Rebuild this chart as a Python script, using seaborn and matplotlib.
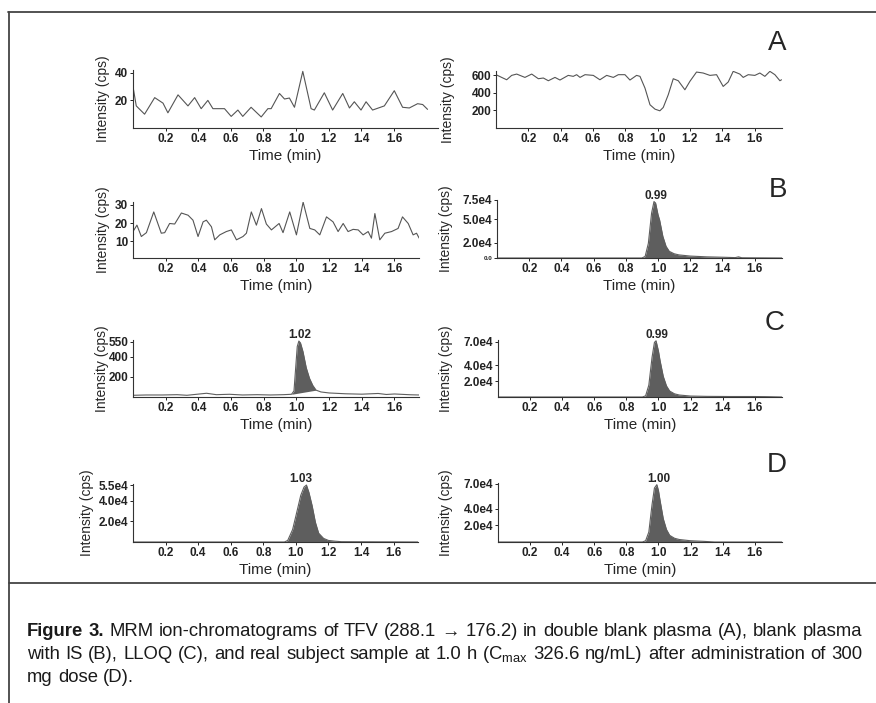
import matplotlib
matplotlib.use('Agg')
import numpy as np
import seaborn as sns
import matplotlib.pyplot as plt
from matplotlib.lines import Line2D

# ---- data (time in min, intensity in cps) ----
# A, left: double blank plasma, analyte channel
a1_t = [0.000, 0.020, 0.071, 0.133, 0.184, 0.214, 0.276, 0.337, 0.378, 0.418, 0.459, 0.490, 0.561, 0.602,
        0.643, 0.673, 0.724, 0.786, 0.827, 0.847, 0.898, 0.929, 0.959, 0.990, 1.041, 1.092, 1.112, 1.173,
        1.224, 1.286, 1.327, 1.357, 1.398, 1.429, 1.469, 1.541, 1.602, 1.653, 1.694, 1.745, 1.776, 1.806]
a1_y = [30, 16, 10, 22, 18, 11, 24, 16, 22, 14, 20, 14, 14, 8.4, 13, 8.4, 15, 8, 14, 14, 25, 21, 21.7, 15,
        41, 14, 13, 25.5, 13, 25, 14.5, 19, 13, 19, 13, 16, 27, 15, 14.5, 17.6, 17, 13.5]
# A, right: double blank plasma, IS channel
a2_t = [0.000, 0.035, 0.066, 0.097, 0.128, 0.179, 0.221, 0.262, 0.293, 0.324, 0.365, 0.396, 0.447, 0.478,
        0.499, 0.520, 0.551, 0.602, 0.643, 0.685, 0.726, 0.757, 0.798, 0.829, 0.870, 0.891, 0.922, 0.953,
        0.984, 1.014, 1.035, 1.066, 1.097, 1.128, 1.169, 1.200, 1.241, 1.282, 1.324, 1.365, 1.406, 1.437,
        1.468, 1.509, 1.530, 1.561, 1.602, 1.633, 1.664, 1.695, 1.726, 1.757, 1.767]
a2_y = [608, 577, 550, 600, 615, 577, 615, 562, 570, 539, 577, 547, 600, 589, 608, 577, 608, 600, 550, 600,
        577, 608, 608, 547, 600, 589, 455, 265, 215, 196, 234, 379, 562, 539, 436, 532, 638, 627, 600, 608,
        474, 524, 646, 615, 577, 608, 600, 627, 589, 646, 608, 539, 550]
# B, left: blank plasma with IS, analyte channel
b1_t = [0, 0.024, 0.051, 0.082, 0.127, 0.173, 0.194, 0.224, 0.255, 0.296, 0.337, 0.367, 0.398, 0.429,
        0.449, 0.480, 0.500, 0.531, 0.571, 0.602, 0.633, 0.673, 0.694, 0.724, 0.755, 0.786, 0.816, 0.847,
        0.894, 0.918, 0.959, 1.000, 1.041, 1.082, 1.112, 1.143, 1.184, 1.224, 1.255, 1.286, 1.316, 1.347,
        1.378, 1.408, 1.439, 1.459, 1.480, 1.510, 1.541, 1.582, 1.622, 1.649, 1.684, 1.714, 1.735, 1.751]
b1_y = [15.4, 18.9, 12.7, 14.8, 26.1, 14.5, 14.8, 19.8, 19.5, 25.5, 24.3, 21.6, 12.7, 20.7, 21.6, 18.0,
        10.9, 13.6, 15.4, 16.3, 10.9, 12.7, 14.5, 26.1, 18.9, 27.9, 19.5, 16.3, 19.8, 14.8, 26.1, 13.6,
        31.4, 17.1, 16.3, 13.6, 23.4, 20.7, 15.4, 19.8, 15.4, 16.6, 16.3, 13.6, 15.4, 11.8, 25.2, 10.9,
        14.5, 15.4, 17.1, 23.4, 19.8, 13.6, 14.5, 11.8]
# B, right: IS peak
b2_t = [0, 0.90, 0.92, 0.94, 0.96, 0.975, 0.985, 1.00, 1.01, 1.03, 1.05, 1.07, 1.10, 1.13, 1.20, 1.30,
        1.40, 1.48, 1.50, 1.52, 1.77]
b2_y = [0, 0, 2e3, 1.9e4, 5.8e4, 7.3e4, 7.1e4, 5.6e4, 4.9e4, 2.8e4, 1.5e4, 8.6e3, 5.5e3, 4e3, 2.5e3,
        1.5e3, 1e3, 5e2, 1.5e3, 3e2, 0]
# C, left: LLOQ analyte
c1_t = [0, 0.08, 0.18, 0.27, 0.33, 0.39, 0.45, 0.51, 0.59, 0.67, 0.76, 0.84, 0.92, 0.97, 0.985, 0.995,
        1.005, 1.015, 1.025, 1.04, 1.06, 1.08, 1.10, 1.12, 1.15, 1.20, 1.25, 1.30, 1.40, 1.50, 1.55, 1.60,
        1.70, 1.75]
c1_y = [17, 20, 20, 23, 17, 27, 37, 23, 27, 20, 23, 20, 23, 27, 60, 280, 500, 555, 535, 450, 290, 185,
        115, 68, 50, 40, 36, 32, 28, 35, 25, 30, 22, 20]
c1_window = (0.97, 1.12)
# C, right: LLOQ IS
c2_t = [0, 0.90, 0.92, 0.94, 0.96, 0.975, 0.985, 1.00, 1.01, 1.03, 1.05, 1.07, 1.10, 1.13, 1.20, 1.30,
        1.45, 1.60, 1.68, 1.77]
c2_y = [0, 0, 1.5e3, 1.5e4, 5.0e4, 6.9e4, 7.1e4, 5.8e4, 4.6e4, 2.6e4, 1.4e4, 7.5e3, 4e3, 2.5e3, 1.2e3,
        8e2, 6e2, 6e2, 4e2, 0]
# D, left: subject sample analyte
d1_t = [0, 0.93, 0.95, 0.98, 1.00, 1.03, 1.05, 1.065, 1.08, 1.10, 1.12, 1.14, 1.17, 1.20, 1.24, 1.28, 1.75]
d1_y = [0, 0, 1.5e3, 1.2e4, 2.5e4, 4.5e4, 5.3e4, 5.5e4, 4.8e4, 3.5e4, 1.9e4, 8.5e3, 3.5e3, 1.5e3, 8e2,
        3e2, 0]
# D, right: subject sample IS
d2_t = [0, 0.90, 0.92, 0.94, 0.96, 0.975, 0.99, 1.00, 1.01, 1.03, 1.05, 1.07, 1.10, 1.13, 1.20, 1.28,
        1.35, 1.77]
d2_y = [0, 0, 1.5e3, 1.2e4, 4.5e4, 6.5e4, 6.9e4, 6.2e4, 5.0e4, 2.8e4, 1.5e4, 8e3, 4.5e3, 3e3, 1.5e3,
        8e2, 0, 0]

x_ticks = [0.2, 0.4, 0.6, 0.8, 1.0, 1.2, 1.4, 1.6]
x_labels = ['0.2', '0.4', '0.6', '0.8', '1.0', '1.2', '1.4', '1.6']
peak_labels = {'B2': '0.99', 'C1': '1.02', 'C2': '0.99', 'D1': '1.03', 'D2': '1.00'}
panel_letters = ['A', 'B', 'C', 'D']

caption = [
    "Figure 3. MRM ion-chromatograms of TFV (288.1 \u2192 176.2) in double blank plasma (A), blank plasma",
    "with IS (B), LLOQ (C), and real subject sample at 1.0 h (C$_{max}$ 326.6 ng/mL) after administration of 300",
    "mg dose (D).",
]

# ---- layout (pixel boxes: left, top, right, bottom) ----
W, H = 876, 703
panels = [
    dict(key='A1', t=a1_t, y=a1_y, box=(133, 70, 438, 128), xmax=1.87, ylim=(0, 42),
         yt=[20, 40], ytl=['20', '40'], ylx=110, fill=False),
    dict(key='A2', t=a2_t, y=a2_y, box=(496, 71, 782, 128), xmax=1.77, ylim=(0, 650),
         yt=[200, 400, 600], ytl=['200', '400', '600'], ylx=455, fill=False),
    dict(key='B1', t=b1_t, y=b1_y, box=(133, 202, 419, 258), xmax=1.75, ylim=(1, 31.5),
         yt=[10, 20, 30], ytl=['10', '20', '30'], ylx=110, fill=False),
    dict(key='B2', t=b2_t, y=b2_y, box=(497, 200, 782, 258), xmax=1.77, ylim=(0, 7.5e4),
         yt=[0, 2e4, 5e4, 7.5e4], ytl=['0.0', '2.0e4', '5.0e4', '7.5e4'], ylx=453, fill=True),
    dict(key='C1', t=c1_t, y=c1_y, box=(133, 340, 419, 397), xmax=1.75, ylim=(0, 565),
         yt=[200, 400, 550], ytl=['200', '400', '550'], ylx=109, fill=c1_window),
    dict(key='C2', t=c2_t, y=c2_y, box=(498, 340, 782, 397), xmax=1.77, ylim=(0, 7.2e4),
         yt=[2e4, 4e4, 7e4], ytl=['2.0e4', '4.0e4', '7.0e4'], ylx=453, fill=True),
    dict(key='D1', t=d1_t, y=d1_y, box=(133, 484, 418, 542), xmax=1.75, ylim=(0, 5.6e4),
         yt=[2e4, 4e4, 5.5e4], ytl=['2.0e4', '4.0e4', '5.5e4'], ylx=94, fill=True),
    dict(key='D2', t=d2_t, y=d2_y, box=(498, 483, 782, 542), xmax=1.77, ylim=(0, 7.1e4),
         yt=[2e4, 4e4, 7e4], ytl=['2.0e4', '4.0e4', '7.0e4'], ylx=453, fill=True),
]
letter_pos = [(777, 43), (778, 190), (775, 323), (777, 465)]

sns.set_theme(style='ticks')
plt.rcParams['font.family'] = ['Liberation Sans', 'DejaVu Sans']
plt.rcParams['mathtext.default'] = 'regular'

fig = plt.figure(figsize=(W / 100, H / 100), dpi=100)
line_c = '#555555'
fill_c = '#5e5e5e'

for p in panels:
    l, t, r, b = p['box']
    ax = fig.add_axes([l / W, 1 - b / H, (r - l) / W, (b - t) / H])
    tt = np.array(p['t'])
    yy = np.array(p['y'])
    col = fill_c if p['fill'] is not False else line_c
    sns.lineplot(x=tt, y=yy, ax=ax, color=col, linewidth=0.8, estimator=None, sort=False)
    if p['fill'] is True:
        ax.fill_between(tt, yy, 0, color=fill_c, linewidth=0)
    elif p['fill']:
        t0, t1 = p['fill']
        m = (tt >= t0) & (tt <= t1)
        base = np.interp(tt[m], [t0, t1], [np.interp(t0, tt, yy), np.interp(t1, tt, yy)])
        ax.fill_between(tt[m], yy[m], base, color=fill_c, linewidth=0)
    if p['key'] in peak_labels:
        lab = peak_labels[p['key']]
        ax.text(float(lab), yy.max(), lab, ha='center', va='bottom', fontsize=8.5,
                fontweight='bold', clip_on=False)
    ax.set_xlim(0, p['xmax'])
    ax.set_ylim(*p['ylim'])
    ax.set_xticks(x_ticks, x_labels)
    ax.set_yticks(p['yt'], p['ytl'])
    ax.tick_params(length=2, width=0.7, pad=1.5, labelsize=8.5, colors='#222222')
    for lab in ax.get_xticklabels() + ax.get_yticklabels():
        lab.set_fontweight('bold')
    if p['key'] == 'B2':
        ax.get_yticklabels()[0].set_fontsize(4.5)
    for s in ['top', 'right']:
        ax.spines[s].set_visible(False)
    for s in ['left', 'bottom']:
        ax.spines[s].set_linewidth(0.8)
        ax.spines[s].set_color('#333333')
    ax.set_xlabel('Time (min)', fontsize=11, labelpad=3)
    ax.set_ylabel('Intensity (cps)', fontsize=10)
    ax.yaxis.set_label_coords((p['ylx'] - l) / (r - l), 0.5)

for letter, (x, y) in zip(panel_letters, letter_pos):
    fig.text(x / W, 1 - y / H, letter, fontsize=20, ha='center', va='center')

# frame round figure and caption
frame = dict(transform=fig.transFigure, color='#444444', linewidth=1.3)
fig.add_artist(Line2D([8 / W, 1], [1 - 12 / H, 1 - 12 / H], **frame))
fig.add_artist(Line2D([9 / W, 9 / W], [1 - 12 / H, 0], **frame))
fig.add_artist(Line2D([9 / W, 1], [1 - 583 / H, 1 - 583 / H], **frame))

# caption, justified like the printed page
cap_x0, cap_x1 = 27, 862
cap_base = [636, 659, 682]
renderer = fig.canvas.get_renderer()


def words_of(i, line):
    ws = line.split(' ')
    return [(w, 'bold' if (i == 0 and j < 2) else 'normal') for j, w in enumerate(ws)]


def measure(words, size):
    arts = [fig.text(0, 0, w, fontsize=size, fontweight=wt) for w, wt in words]
    widths = [a.get_window_extent(renderer).width for a in arts]
    for a in arts:
        a.remove()
    return widths


probe = 10
w0 = measure(words_of(0, caption[0]), probe)
space0 = 0.278 * probe * 100 / 72
cap_size = probe * (cap_x1 - cap_x0) / (sum(w0) + space0 * (len(w0) - 1))
space = 0.278 * cap_size * 100 / 72

for i, (line, yb) in enumerate(zip(caption, cap_base)):
    words = words_of(i, line)
    widths = measure(words, cap_size)
    if i < len(caption) - 1:
        gap = (cap_x1 - cap_x0 - sum(widths)) / (len(words) - 1)
    else:
        gap = space
    x = cap_x0
    for (w, wt), wd in zip(words, widths):
        fig.text(x / W, 1 - yb / H, w, fontsize=cap_size, fontweight=wt, va='baseline', ha='left',
                 color='#1a1a1a')
        x += wd + gap

fig.savefig('out.png', dpi=100)
